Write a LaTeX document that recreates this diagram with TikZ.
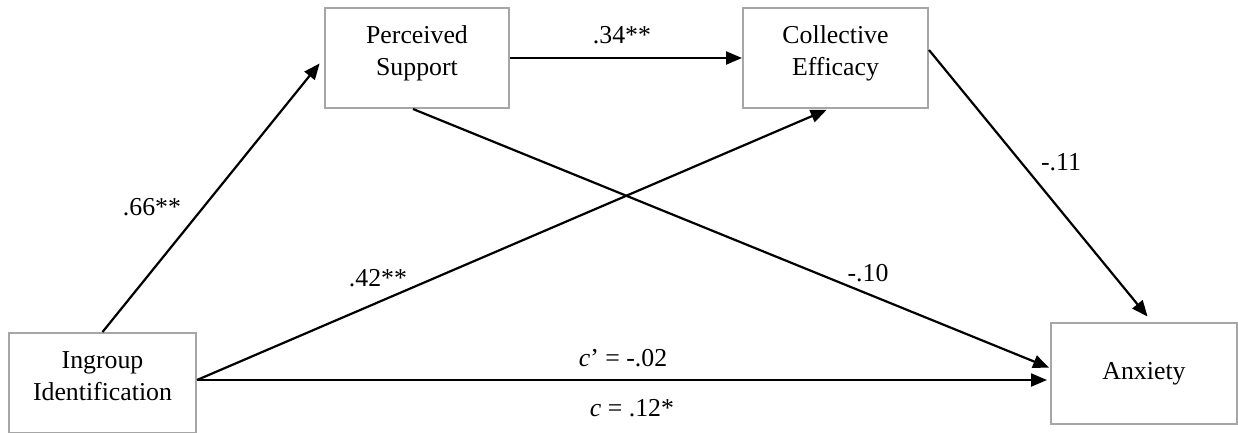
\documentclass[tikz,border=0pt]{standalone}
\usepackage{fontspec}
\setmainfont{Liberation Serif}
\usetikzlibrary{arrows.meta}
\begin{document}
\begin{tikzpicture}[x=1pt,y=-1pt,
  varbox/.style={draw=boxgray, line width=2pt, rectangle, align=center,
    font=\fontsize{25.8}{32}\selectfont, inner sep=0pt},
  coef/.style={font=\fontsize{25.8}{32}\selectfont, inner sep=0pt},
  arr/.style={line width=2.2pt, -{Triangle[length=16pt,width=13pt]}}]
\definecolor{boxgray}{HTML}{A6A6A6}
\useasboundingbox (0,0) rectangle (1238,432);
\node[varbox, minimum width=187pt, minimum height=100pt, text depth=14pt] (ing) at (102.5,383) {Ingroup\\Identification};
\node[varbox, minimum width=184pt, minimum height=100pt, text depth=14pt] (ps) at (417,58) {Perceived\\Support};
\node[varbox, minimum width=185pt, minimum height=100pt, text depth=14pt] (ce) at (835.5,58) {Collective\\Efficacy};
\node[varbox, minimum width=186pt, minimum height=101pt] (anx) at (1144,373.5) {Anxiety};
\draw[arr, shorten >=7pt] (ing.north) -- (ps.west);
\draw[arr] (ps.east) -- (ce.west);
\draw[arr, shorten >=2pt] ([yshift=3pt]ing.east) -- ([xshift=-7pt]ce.south);
\draw[arr, shorten >=3pt] ([yshift=3pt]ing.east) -- ([yshift=3pt]ing.east -| anx.west);
\draw[arr, shorten >=1pt] ([xshift=-4pt]ps.south) -- ([yshift=5.5pt]anx.west);
\draw[arr, shorten >=7pt] ([yshift=8pt]ce.east) -- ([xshift=8pt]anx.north);
\node[coef] (l34) at (622,35) {.34**};
\node[coef] (l66) at (152,207) {.66**};
\node[coef] (l42) at (378,278) {.42**};
\node[coef] (l10) at (868,273) {-.10};
\node[coef] (l11) at (1061,162) {-.11};
\node[coef] (lcp) at (623,358) {\textit{c}’ = -.02};
\node[coef] (lc) at (632,408) {\textit{c} = .12*};
\end{tikzpicture}
\end{document}
